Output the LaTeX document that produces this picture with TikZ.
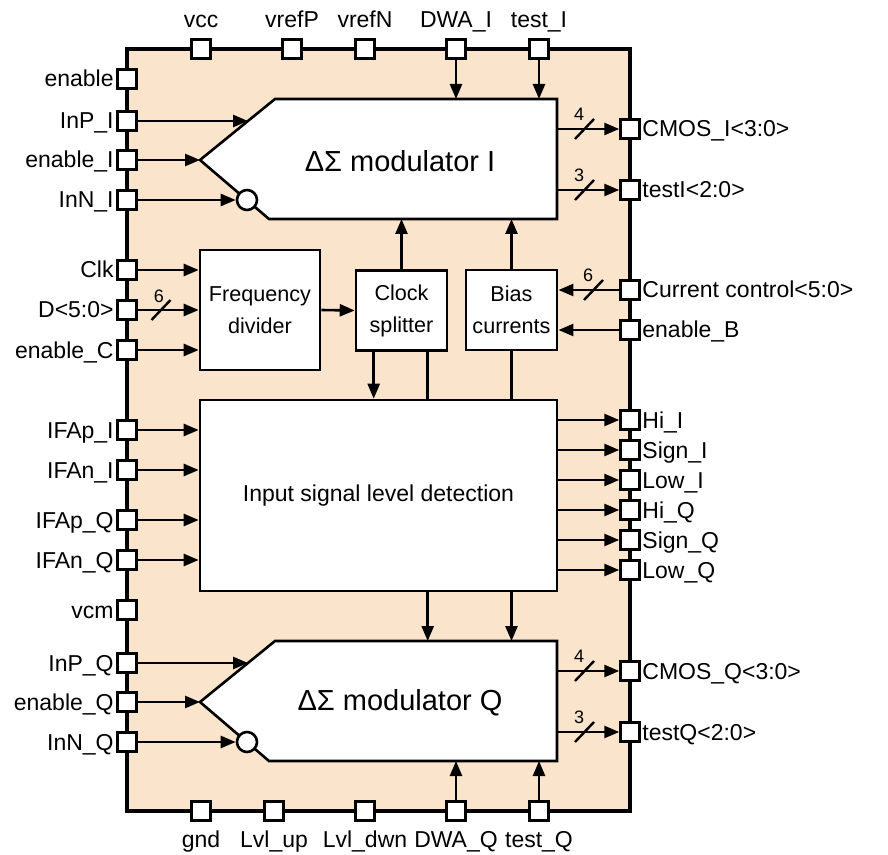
\documentclass[tikz,border=0pt]{standalone}
\usepackage{fontspec}
\setmainfont{Liberation Sans}
\usetikzlibrary{arrows.meta,calc}
\definecolor{peach}{RGB}{251,228,204}
\newcommand\busmark[4]{%
  \draw[bus] ($(#1)+(-9.5,10)$) -- ($(#1)+(9.5,-10)$);
  \node[busnum] (#4) at ($(#1)+#3$) {#2};}
\begin{document}
\begin{tikzpicture}[x=0.5pt,y=-0.5pt,
  frame/.style={line width=2.2pt, fill=peach},
  pin/.style={draw, fill=white, line width=1.25pt, minimum size=9.5pt, inner sep=0pt},
  lbl/.style={font=\fontsize{11.5}{13}\selectfont, inner sep=0pt},
  boxtxt/.style={font=\fontsize{10.8}{16}\selectfont, align=center},
  conn/.style={line width=1.3pt},
  arr/.style={conn, -{Triangle[length=7.5pt,width=6pt]}},
  blk/.style={draw, fill=white, line width=1.3pt, line join=miter},
  bub/.style={draw, fill=white, circle, line width=1.3pt, minimum size=10pt, inner sep=0pt},
  modtxt/.style={font=\fontsize{14.5}{16}\selectfont, inner sep=0pt},
  bus/.style={line width=1.2pt},
  busnum/.style={font=\fontsize{9}{10}\selectfont, inner sep=0pt}
]
\useasboundingbox (0,0) rectangle (888,855);
\draw[frame] (127,49) rectangle (630,811);

% top pins
\foreach \n/\x/\t in {vcc/201/vcc, vrefP/292/vrefP, vrefN/365/vrefN, DWAI/456/DWA\_I, tstI/539/test\_I}{
  \node[pin] (\n) at (\x,49) {};
  \node[lbl, anchor=base] (\n-l) at (\x,28) {\t};
}
% bottom pins
\foreach \n/\x/\t in {gnd/201/gnd, Lvlup/274/Lvl\_up, Lvldwn/365/Lvl\_dwn, DWAQ/456/DWA\_Q, tstQ/539/test\_Q}{
  \node[pin] (\n) at (\x,811) {};
  \node[lbl, anchor=base] (\n-l) at (\x,847) {\t};
}
% left pins
\foreach \n/\y/\t in {enable/79/enable, InPI/121/InP\_I, enI/160/enable\_I, InNI/200/InN\_I,
    Clk/270/Clk, D/310/D<5:0>, enC/350/enable\_C, IFApI/430/IFAp\_I, IFAnI/470/IFAn\_I,
    IFApQ/520/IFAp\_Q, IFAnQ/560/IFAn\_Q, vcm/610/vcm, InPQ/663/InP\_Q, enQ/702/enable\_Q, InNQ/742/InN\_Q}{
  \node[pin] (\n) at (127,\y) {};
  \node[lbl, anchor=base east] (\n-l) at ($(\n)+(-13,8)$) {\t};
}
% right pins
\foreach \n/\y/\t in {CMOSI/129/CMOS\_I<3:0>, testIo/190/testI<2:0>, CurCtl/290/Current control<5:0>,
    enB/330/enable\_B, HiI/420/Hi\_I, SignI/450/Sign\_I, LowI/480/Low\_I, HiQ/510/Hi\_Q,
    SignQ/540/Sign\_Q, LowQ/570/Low\_Q, CMOSQ/671/CMOS\_Q<3:0>, testQo/732/testQ<2:0>}{
  \node[pin] (\n) at (630,\y) {};
  \node[lbl, anchor=base west] (\n-l) at ($(\n)+(12,8)$) {\t};
}

% blocks
\node[blk, boxtxt, minimum width=60pt, minimum height=60pt] (fd) at (260,310) {Frequency\\divider};
\node[blk, boxtxt, minimum width=45.5pt, minimum height=40pt] (cs) at (401.5,310.5) {Clock\\splitter};
\node[blk, boxtxt, minimum width=45.5pt, minimum height=40pt] (bias) at (511.5,310) {Bias\\currents};

% modulator I
\coordinate (mIp) at (200,160);
\coordinate (mItl) at (275,99);
\coordinate (mItr) at (557,99);
\coordinate (mIbr) at (557,219);
\coordinate (mIbl) at (269,219);
\draw[blk] (mIp) -- (mItl) -- (mItr) -- (mIbr) -- (mIbl) -- cycle;
\node[bub] (mIc) at (247,200) {};
\node[modtxt] (mIt) at (400,161) {ΔΣ modulator I};
\coordinate (mIin) at ($(mIp)!0.64!(mItl)$);

% modulator Q
\coordinate (mQp) at (200,702);
\coordinate (mQtl) at (275,641);
\coordinate (mQtr) at (557,641);
\coordinate (mQbr) at (557,761);
\coordinate (mQbl) at (269,761);
\draw[blk] (mQp) -- (mQtl) -- (mQtr) -- (mQbr) -- (mQbl) -- cycle;
\node[bub] (mQc) at (247,742) {};
\node[modtxt] (mQt) at (400,703) {ΔΣ modulator Q};
\coordinate (mQin) at ($(mQp)!0.64!(mQtl)$);

% lines passing behind the detection block
\coordinate (csA) at ([xshift=9.5pt]cs.south west);
\coordinate (csB) at ([xshift=36.5pt]cs.south west);
\draw[arr] (csB) -- (csB |- mQtl);
\draw[arr] (bias.south) -- (bias.south |- mQtl);

% detection block
\node[blk, lbl, inner sep=2pt, minimum width=178.5pt, minimum height=95.5pt] (det) at (378.5,495.5) {Input signal level detection};

% modulator I connections
\draw[arr] (InPI.east) -- (InPI.east -| mIin);
\draw[arr] (enI.east) -- (mIp);
\draw[arr] (InNI.east) -- (mIc.west);
\draw[arr] (DWAI.south) -- (DWAI.south |- mItl);
\draw[arr] (tstI.south) -- (tstI.south |- mItl);
\draw[arr] (CMOSI.west -| mItr) -- (CMOSI.west);
\draw[arr] (testIo.west -| mItr) -- (testIo.west);
\coordinate (bmA) at (584.5,129);
\coordinate (bmB) at (584.5,190);
\busmark{bmA}{4}{(-5.5,-14.5)}{nA}
\busmark{bmB}{3}{(-5.5,-14.5)}{nB}
\draw[arr] (cs.north) -- (cs.north |- mIbl);
\draw[arr] (bias.north) -- (bias.north |- mIbl);

% clock path
\draw[arr] (Clk.east) -- (Clk.east -| fd.west);
\draw[arr] (D.east) -- (D.east -| fd.west);
\draw[arr] (enC.east) -- (enC.east -| fd.west);
\coordinate (bmC) at (161,310);
\busmark{bmC}{6}{(-2,-14)}{nC}
\draw[arr] (fd.east) -- (cs.west);
\draw[arr] (csA) -- (csA |- det.north);

% bias inputs
\draw[arr] (CurCtl.west) -- (CurCtl.west -| bias.east);
\draw[arr] (enB.west) -- (enB.west -| bias.east);
\coordinate (bmD) at (593.5,290);
\busmark{bmD}{6}{(-5.5,-15)}{nD}

% detection inputs/outputs
\foreach \n in {IFApI, IFAnI, IFApQ, IFAnQ}{
  \draw[arr] (\n.east) -- (\n.east -| det.west);
}
\foreach \n in {HiI, SignI, LowI, HiQ, SignQ, LowQ}{
  \draw[arr] (\n.west -| det.east) -- (\n.west);
}

% modulator Q connections
\draw[arr] (InPQ.east) -- (InPQ.east -| mQin);
\draw[arr] (enQ.east) -- (mQp);
\draw[arr] (InNQ.east) -- (mQc.west);
\draw[arr] (DWAQ.north) -- (DWAQ.north |- mQbl);
\draw[arr] (tstQ.north) -- (tstQ.north |- mQbl);
\draw[arr] (CMOSQ.west -| mQtr) -- (CMOSQ.west);
\draw[arr] (testQo.west -| mQtr) -- (testQo.west);
\coordinate (bmE) at (584.5,671);
\coordinate (bmF) at (584.5,732);
\busmark{bmE}{4}{(-5.5,-15)}{nE}
\busmark{bmF}{3}{(-5.5,-15)}{nF}
\end{tikzpicture}
\end{document}
